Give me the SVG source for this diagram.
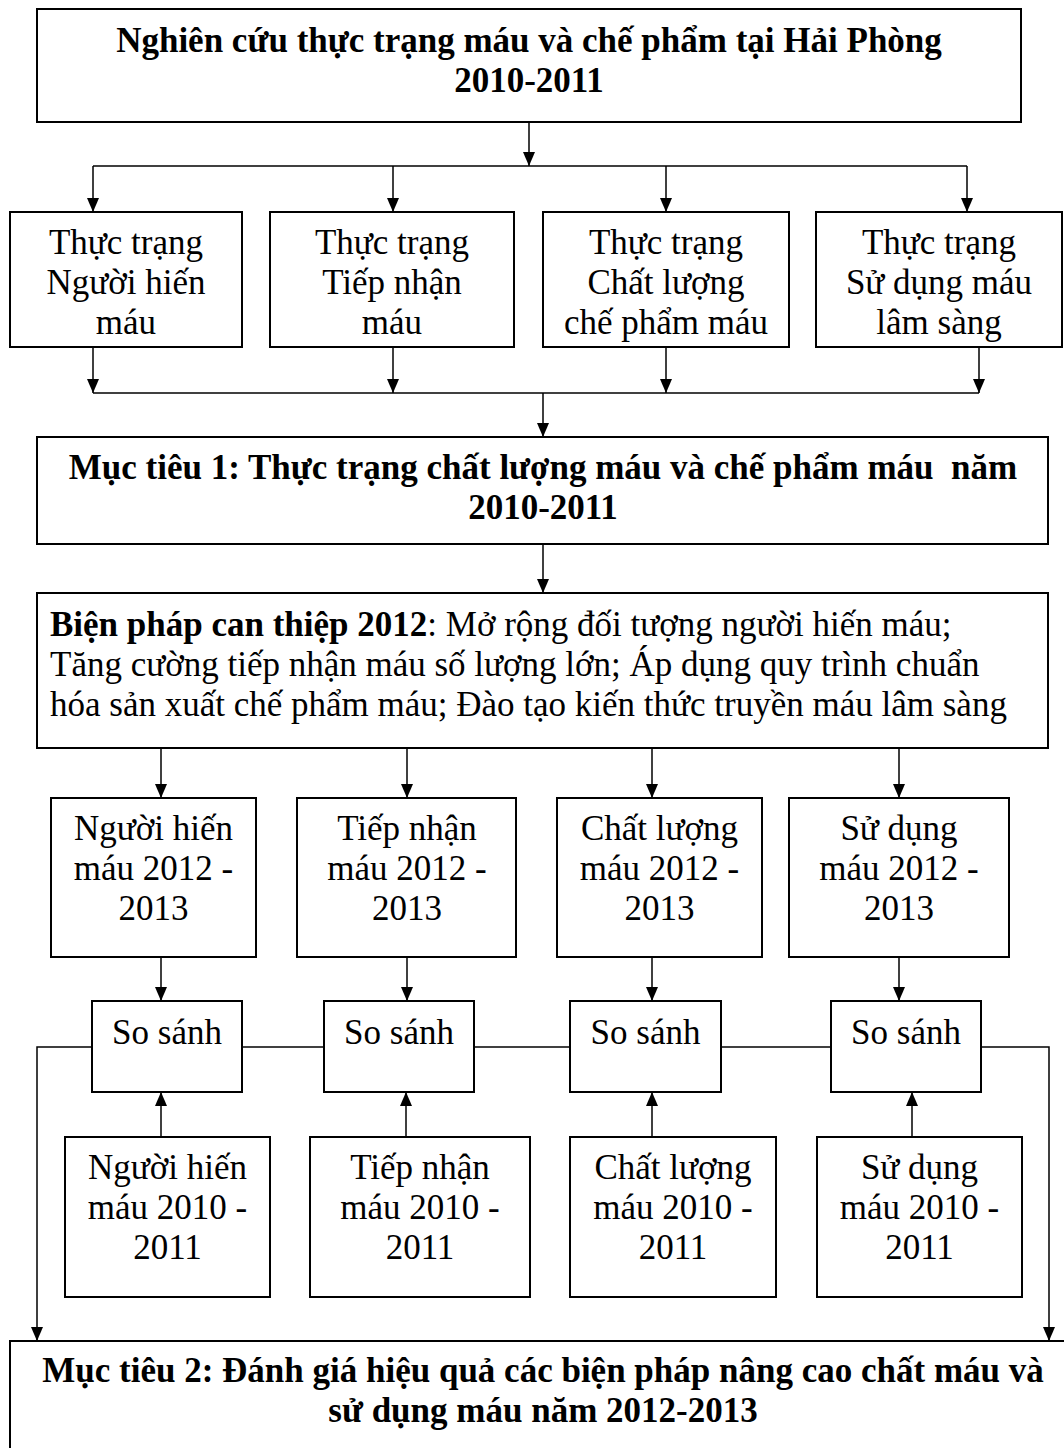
<svg xmlns="http://www.w3.org/2000/svg" width="1064" height="1448" viewBox="0 0 1064 1448">
  <style>
    .box { fill: #fff; stroke: #000; stroke-width: 2; }
    .t { font-family: "Liberation Serif", "Times New Roman", serif; font-size: 35px; fill: #000; text-anchor: middle; white-space: pre; }
    .b { font-weight: bold; }
    .tl { font-family: "Liberation Serif", "Times New Roman", serif; font-size: 35px; fill: #000; white-space: pre; }
    .c { fill: none; stroke: #000; stroke-width: 1.5; }
  </style>
  <defs>
    <marker id="ah" viewBox="0 0 14 12" refX="14" refY="6" markerWidth="14" markerHeight="12" markerUnits="userSpaceOnUse" orient="auto">
      <path d="M0,0 L14,6 L0,12 z" fill="#000"/>
    </marker>
  </defs>
  <rect width="1064" height="1448" fill="#fff"/>

  <g id="connectors">
    <path class="c" d="M529,122 V166" marker-end="url(#ah)"/>
    <path class="c" d="M93,166 H967"/>
    <path class="c" d="M93,166 V212" marker-end="url(#ah)"/>
    <path class="c" d="M393,166 V212" marker-end="url(#ah)"/>
    <path class="c" d="M666,166 V212" marker-end="url(#ah)"/>
    <path class="c" d="M967,166 V212" marker-end="url(#ah)"/>

    <path class="c" d="M93,347 V393" marker-end="url(#ah)"/>
    <path class="c" d="M393,347 V393" marker-end="url(#ah)"/>
    <path class="c" d="M666,347 V393" marker-end="url(#ah)"/>
    <path class="c" d="M979,347 V393" marker-end="url(#ah)"/>
    <path class="c" d="M93,393 H979"/>
    <path class="c" d="M543,393 V437" marker-end="url(#ah)"/>

    <path class="c" d="M543,544 V593" marker-end="url(#ah)"/>

    <path class="c" d="M161,748 V798" marker-end="url(#ah)"/>
    <path class="c" d="M407,748 V798" marker-end="url(#ah)"/>
    <path class="c" d="M652,748 V798" marker-end="url(#ah)"/>
    <path class="c" d="M899,748 V798" marker-end="url(#ah)"/>

    <path class="c" d="M161,957 V1001" marker-end="url(#ah)"/>
    <path class="c" d="M407,957 V1001" marker-end="url(#ah)"/>
    <path class="c" d="M652,957 V1001" marker-end="url(#ah)"/>
    <path class="c" d="M899,957 V1001" marker-end="url(#ah)"/>

    <path class="c" d="M161,1137 V1092" marker-end="url(#ah)"/>
    <path class="c" d="M406,1137 V1092" marker-end="url(#ah)"/>
    <path class="c" d="M652,1137 V1092" marker-end="url(#ah)"/>
    <path class="c" d="M912,1137 V1092" marker-end="url(#ah)"/>

    <path class="c" d="M92,1047 H37 V1341" marker-end="url(#ah)"/>
    <path class="c" d="M242,1047 H324"/>
    <path class="c" d="M474,1047 H570"/>
    <path class="c" d="M721,1047 H831"/>
    <path class="c" d="M981,1047 H1049 V1341" marker-end="url(#ah)"/>
  </g>

  <g id="n-top">
    <rect class="box" x="37" y="9" width="984" height="113"/>
    <text class="t b" x="529" y="52">Nghiên cứu thực trạng máu và chế phẩm tại Hải Phòng</text>
    <text class="t b" x="529" y="92">2010-2011</text>
  </g>

  <g id="n-tt1">
    <rect class="box" x="10" y="212" width="232" height="135"/>
    <text class="t" x="126" y="254">Thực trạng</text>
    <text class="t" x="126" y="294">Người hiến</text>
    <text class="t" x="126" y="334">máu</text>
  </g>
  <g id="n-tt2">
    <rect class="box" x="270" y="212" width="244" height="135"/>
    <text class="t" x="392" y="254">Thực trạng</text>
    <text class="t" x="392" y="294">Tiếp nhận</text>
    <text class="t" x="392" y="334">máu</text>
  </g>
  <g id="n-tt3">
    <rect class="box" x="543" y="212" width="246" height="135"/>
    <text class="t" x="666" y="254">Thực trạng</text>
    <text class="t" x="666" y="294">Chất lượng</text>
    <text class="t" x="666" y="334">chế phẩm máu</text>
  </g>
  <g id="n-tt4">
    <rect class="box" x="816" y="212" width="246" height="135"/>
    <text class="t" x="939" y="254">Thực trạng</text>
    <text class="t" x="939" y="294">Sử dụng máu</text>
    <text class="t" x="939" y="334">lâm sàng</text>
  </g>

  <g id="n-mt1">
    <rect class="box" x="37" y="437" width="1011" height="107"/>
    <text class="t b" x="543" y="479">Mục tiêu 1: Thực trạng chất lượng máu và chế phẩm máu  năm</text>
    <text class="t b" x="543" y="519">2010-2011</text>
  </g>

  <g id="n-bp">
    <rect class="box" x="37" y="593" width="1011" height="155"/>
    <text class="tl" x="50" y="636"><tspan font-weight="bold">Biện pháp can thiệp 2012</tspan>: Mở rộng đối tượng người hiến máu;</text>
    <text class="tl" x="50" y="676">Tăng cường tiếp nhận máu số lượng lớn; Áp dụng quy trình chuẩn</text>
    <text class="tl" x="50" y="716">hóa sản xuất chế phẩm máu; Đào tạo kiến thức truyền máu lâm sàng</text>
  </g>

  <g id="n-a1">
    <rect class="box" x="51" y="798" width="205" height="159"/>
    <text class="t" x="153.5" y="840">Người hiến</text>
    <text class="t" x="153.5" y="880">máu 2012 -</text>
    <text class="t" x="153.5" y="920">2013</text>
  </g>
  <g id="n-a2">
    <rect class="box" x="297" y="798" width="219" height="159"/>
    <text class="t" x="407" y="840">Tiếp nhận</text>
    <text class="t" x="407" y="880">máu 2012 -</text>
    <text class="t" x="407" y="920">2013</text>
  </g>
  <g id="n-a3">
    <rect class="box" x="557" y="798" width="205" height="159"/>
    <text class="t" x="659.5" y="840">Chất lượng</text>
    <text class="t" x="659.5" y="880">máu 2012 -</text>
    <text class="t" x="659.5" y="920">2013</text>
  </g>
  <g id="n-a4">
    <rect class="box" x="789" y="798" width="220" height="159"/>
    <text class="t" x="899" y="840">Sử dụng</text>
    <text class="t" x="899" y="880">máu 2012 -</text>
    <text class="t" x="899" y="920">2013</text>
  </g>

  <g id="n-ss1">
    <rect class="box" x="92" y="1001" width="150" height="91"/>
    <text class="t" x="167" y="1044">So sánh</text>
  </g>
  <g id="n-ss2">
    <rect class="box" x="324" y="1001" width="150" height="91"/>
    <text class="t" x="399" y="1044">So sánh</text>
  </g>
  <g id="n-ss3">
    <rect class="box" x="570" y="1001" width="151" height="91"/>
    <text class="t" x="645.5" y="1044">So sánh</text>
  </g>
  <g id="n-ss4">
    <rect class="box" x="831" y="1001" width="150" height="91"/>
    <text class="t" x="906" y="1044">So sánh</text>
  </g>

  <g id="n-b1">
    <rect class="box" x="65" y="1137" width="205" height="160"/>
    <text class="t" x="167.5" y="1179">Người hiến</text>
    <text class="t" x="167.5" y="1219">máu 2010 -</text>
    <text class="t" x="167.5" y="1259">2011</text>
  </g>
  <g id="n-b2">
    <rect class="box" x="310" y="1137" width="220" height="160"/>
    <text class="t" x="420" y="1179">Tiếp nhận</text>
    <text class="t" x="420" y="1219">máu 2010 -</text>
    <text class="t" x="420" y="1259">2011</text>
  </g>
  <g id="n-b3">
    <rect class="box" x="570" y="1137" width="206" height="160"/>
    <text class="t" x="673" y="1179">Chất lượng</text>
    <text class="t" x="673" y="1219">máu 2010 -</text>
    <text class="t" x="673" y="1259">2011</text>
  </g>
  <g id="n-b4">
    <rect class="box" x="817" y="1137" width="205" height="160"/>
    <text class="t" x="919.5" y="1179">Sử dụng</text>
    <text class="t" x="919.5" y="1219">máu 2010 -</text>
    <text class="t" x="919.5" y="1259">2011</text>
  </g>

  <g id="n-mt2">
    <rect class="box" x="10" y="1341" width="1070" height="130"/>
    <text class="t b" x="543" y="1382">Mục tiêu 2: Đánh giá hiệu quả các biện pháp nâng cao chất máu và</text>
    <text class="t b" x="543" y="1422">sử dụng máu năm 2012-2013</text>
  </g>
</svg>
